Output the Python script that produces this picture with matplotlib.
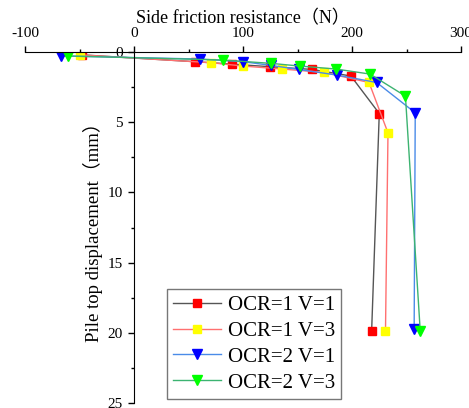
import matplotlib.pyplot as plt
from matplotlib.ticker import MultipleLocator

plt.rcParams['font.family'] = ['Liberation Serif', 'Noto Sans CJK SC']
plt.rcParams['axes.unicode_minus'] = False

# side friction resistance (N) vs pile top displacement (mm)
ocr1_v1_x = [-48, 56, 89.6, 125, 163.6, 199, 225, 218]
ocr1_v1_y = [0.2, 0.69, 0.86, 1.05, 1.24, 1.71, 4.38, 19.86]

ocr1_v3_x = [-50, 70.6, 100, 135.5, 174, 215.6, 233, 230.7]
ocr1_v3_y = [0.2, 0.76, 1.0, 1.21, 1.45, 2.17, 5.76, 19.9]

ocr2_v1_x = [-67, 60.5, 100, 125.5, 151, 186, 222.6, 258, 257]
ocr2_v1_y = [0.28, 0.5, 0.69, 0.95, 1.24, 1.64, 2.17, 4.33, 19.7]

ocr2_v3_x = [-61, 81.4, 126, 152, 185, 216.5, 249, 262.6]
ocr2_v3_y = [0.28, 0.57, 0.81, 1.0, 1.21, 1.57, 3.14, 19.9]

fig = plt.figure(figsize=(4.69, 4.08), dpi=100)
ax = fig.add_axes([0.0533, 0.0123, 0.9297, 0.8602])

ax.plot(ocr1_v1_x, ocr1_v1_y, color='#555555', lw=1, marker='s', ms=6,
        mfc='red', mec='red', label='OCR=1 V=1')
ax.plot(ocr1_v3_x, ocr1_v3_y, color='#ff7070', lw=1, marker='s', ms=6,
        mfc='yellow', mec='yellow', label='OCR=1 V=3')
ax.plot(ocr2_v1_x, ocr2_v1_y, color='#4a8be8', lw=1, marker='v', ms=7,
        mfc='blue', mec='blue', label='OCR=2 V=1')
ax.plot(ocr2_v3_x, ocr2_v3_y, color='#3cb371', lw=1, marker='v', ms=7,
        mfc='#00ff00', mec='#00ff00', label='OCR=2 V=3')

ax.set_xlim(-100, 300)
ax.set_ylim(25, 0)

ax.spines['left'].set_position(('data', 0))
ax.spines['right'].set_visible(False)
ax.spines['bottom'].set_visible(False)
ax.xaxis.set_ticks_position('top')
ax.xaxis.set_label_position('top')

ax.xaxis.set_major_locator(MultipleLocator(100))
ax.xaxis.set_minor_locator(MultipleLocator(50))
ax.yaxis.set_major_locator(MultipleLocator(5))
ax.yaxis.set_minor_locator(MultipleLocator(2.5))
ax.tick_params(which='major', direction='out', length=4.5, width=1, labelsize=11)
ax.tick_params(which='minor', direction='out', length=2.5, width=1)
ax.tick_params(axis='x', pad=4)

ax.set_xlabel('Side friction resistance（N）', fontsize=13, labelpad=2.5)
ax.set_ylabel('Pile top displacement（mm）', fontsize=13.5, labelpad=3)

leg = ax.legend(loc='lower left', bbox_to_anchor=(0.326, 0.012), fontsize=15,
                frameon=True, fancybox=False, edgecolor='#555555',
                handlelength=2.3, borderpad=0.3, borderaxespad=0,
                labelspacing=0.3, handletextpad=0.3)
leg.get_frame().set_linewidth(1)

fig.savefig('out.png', dpi=100)
